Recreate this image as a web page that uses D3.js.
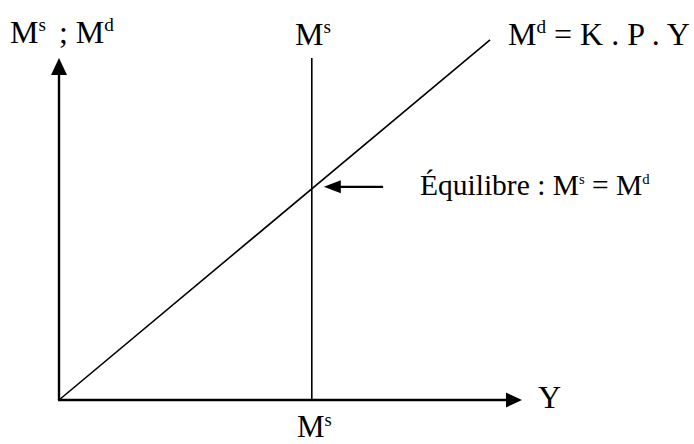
<!DOCTYPE html>
<html>
<head>
<meta charset="utf-8">
<script src="https://cdn.jsdelivr.net/npm/d3@7"></script>
<style>
  body { margin: 0; background: #fff; }
  svg { display: block; }
  text { font-family: "Liberation Serif", "Times New Roman", serif; fill: #000; }
</style>
</head>
<body>
<svg id="chart"></svg>
<script>
// data (abstract units, 0..100 on each axis)
const moneySupply = 54.6;                 // vertical M^s line position on Y
const demandLine = [[0, 0], [93.1, 105.3]]; // M^d = K . P . Y
const axisMax = { x: 100, y: 100 };
const eqArrow = [70, 57.2];               // arrow pointing at the equilibrium
// labels
const yAxisLabel = [["M", false], ["s", true], [" ; M", false], ["d", true]];
const xAxisLabel = [["Y", false]];
const supplyTopLabel = [["M", false], ["s", true]];
const supplyBottomLabel = [["M", false], ["s", true]];
const demandLabel = [["M", false], ["d", true], [" = K . P . Y", false]];
const eqLabel = [["Équilibre : M", false], ["s", true], [" = M", false], ["d", true]];

const width = 694, height = 444;
const svg = d3.select("#chart").attr("width", width).attr("height", height);

const x = d3.scaleLinear().domain([0, axisMax.x]).range([59, 522]);
const y = d3.scaleLinear().domain([0, axisMax.y]).range([400, 58]);

const slope = demandLine[1][1] / demandLine[1][0];
const eqY = moneySupply * slope;

// axes
svg.append("line")
    .attr("x1", x(0)).attr("y1", y(0))
    .attr("x2", x(0)).attr("y2", y(axisMax.y) + 14)
    .attr("stroke", "#000").attr("stroke-width", 2.4);
svg.append("line")
    .attr("x1", x(0) - 1).attr("y1", y(0))
    .attr("x2", x(axisMax.x) - 14).attr("y2", y(0))
    .attr("stroke", "#000").attr("stroke-width", 2.4);

const arrowHead = (tipX, tipY, dir, len, half) => {
    // dir: "up", "right", "left"
    let pts;
    if (dir === "up") pts = [[tipX, tipY], [tipX - half, tipY + len], [tipX + half, tipY + len]];
    else if (dir === "right") pts = [[tipX, tipY], [tipX - len, tipY - half], [tipX - len, tipY + half]];
    else pts = [[tipX, tipY], [tipX + len, tipY - half], [tipX + len, tipY + half]];
    svg.append("path").attr("d", d3.line()(pts) + "Z").attr("fill", "#000");
};
arrowHead(x(0), y(axisMax.y), "up", 17, 8);
arrowHead(x(axisMax.x), y(0), "right", 16, 7.5);

// M^s vertical line
svg.append("line")
    .attr("x1", x(moneySupply)).attr("y1", y(0))
    .attr("x2", x(moneySupply)).attr("y2", y(axisMax.y))
    .attr("stroke", "#000").attr("stroke-width", 1.6);

// M^d line
svg.append("path")
    .attr("d", d3.line().x(d => x(d[0])).y(d => y(d[1]))(demandLine))
    .attr("fill", "none").attr("stroke", "#000").attr("stroke-width", 1.6);

// equilibrium arrow
const ay = y(eqY) - 2;
svg.append("line")
    .attr("x1", x(eqArrow[0])).attr("y1", ay)
    .attr("x2", x(eqArrow[1]) + 14).attr("y2", ay)
    .attr("stroke", "#000").attr("stroke-width", 2.2);
arrowHead(x(eqArrow[1]), ay, "left", 17, 6.5);

// text helper with superscripts
const label = (parts, px, py, size, supRatio, gap) => {
    const r = supRatio || 0.6;
    const t = svg.append("text")
        .attr("x", px).attr("y", py)
        .attr("font-size", size)
        .style("white-space", "pre");
    let raised = false;
    for (const [str, sup] of parts) {
        const ts = t.append("tspan").text(str);
        if (sup && !raised) { ts.attr("dy", -size * 0.36).attr("font-size", size * r); raised = true; }
        else if (!sup && raised) { ts.attr("dy", size * 0.36).attr("dx", gap || 0); raised = false; }
        else if (sup) ts.attr("font-size", size * r);
    }
    return t;
};

label(yAxisLabel, 10, 43, 32, 0.6, 5);
label(supplyTopLabel, 295, 45, 32);
label(demandLabel, 508, 45, 32);
label(eqLabel, 420, 195, 29.5, 0.5);
label(xAxisLabel, 538, 408, 32);
label(supplyBottomLabel, 297, 437, 31);
</script>
</body>
</html>
